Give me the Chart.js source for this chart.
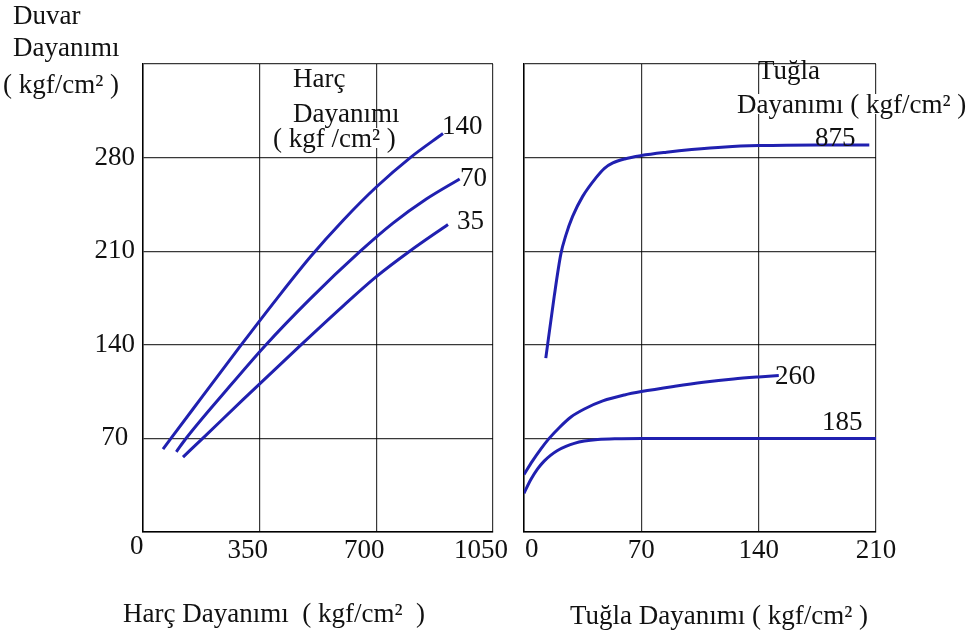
<!DOCTYPE html>
<html lang="tr">
<head>
<meta charset="utf-8">
<title>Duvar Dayanımı</title>
<script src="https://cdn.jsdelivr.net/npm/chart.js@4/dist/chart.umd.min.js"></script>
<style>
  html, body { margin: 0; padding: 0; background: #fff; }
  #wrap {
    position: relative; width: 973px; height: 644px; overflow: hidden;
    font-family: "Liberation Serif", "Times New Roman", serif; color: #111;
  }
  canvas { position: absolute; top: 0; }
  #harcChart { left: 0; }
  #tuglaChart { left: 505px; }
  .lbl { position: absolute; font-size: 27px; line-height: 27px; white-space: pre; }
  .bg { background: #fff; line-height: 20px; }
</style>
</head>
<body>
<div id="wrap">
  <canvas id="harcChart" width="520" height="644"></canvas>
  <canvas id="tuglaChart" width="468" height="644"></canvas>

  <!-- eksen başlığı (sol üst) -->
  <div class="lbl" style="left:13px;top:2px">Duvar</div>
  <div class="lbl" style="left:13px;top:34px">Dayanımı</div>
  <div class="lbl" style="left:3px;top:71px">( kgf/cm² )</div>

  <!-- sol grafik içi -->
  <div class="lbl" style="left:293px;top:65px">Harç</div>
  <div class="lbl" style="left:293px;top:100px">Dayanımı</div>
  <div class="lbl bg" style="left:273px;top:128px">( kgf /cm² )</div>
  <div class="lbl" style="left:442px;top:112px">140</div>
  <div class="lbl" style="left:460px;top:164px">70</div>
  <div class="lbl" style="left:457px;top:207px">35</div>

  <!-- sağ grafik içi -->
  <div class="lbl" style="left:758px;top:57px">Tuğla</div>
  <div class="lbl bg" style="left:737px;top:94px">Dayanımı ( kgf/cm² )</div>
  <div class="lbl" style="left:815px;top:124px">875</div>
  <div class="lbl" style="left:775px;top:362px">260</div>
  <div class="lbl" style="left:822px;top:408px">185</div>

  <!-- orijin ve alt başlıklar -->
  <div class="lbl" style="left:130px;top:532px">0</div>
  <div class="lbl" style="left:525px;top:535px">0</div>
  <div class="lbl" style="left:123px;top:600px">Harç Dayanımı  ( kgf/cm²  )</div>
  <div class="lbl" style="left:570px;top:602px">Tuğla Dayanımı ( kgf/cm² )</div>
</div>

<script>
// ==========================================
// 1. DATA
// ==========================================
const yTicks = [0, 70, 140, 210, 280, 350];
const harcTicks = [0, 350, 700, 1050];
const tuglaTicks = [0, 70, 140, 210];

// sol grafik: eğri etiketleri 140 / 70 / 35
const harcX140 = [60, 150, 298, 400, 503, 600, 700, 802, 900];
const duvarY140 = [62, 92, 141, 174, 206, 233, 258, 280, 298];
const harcX70 = [100, 126, 250, 365, 500, 652, 750, 850, 950];
const duvarY70 = [60, 69, 106, 139, 174, 210, 231, 249, 264];
const harcX35 = [120, 183, 300, 474, 600, 700, 800, 915];
const duvarY35 = [56, 71, 99, 140, 169, 191, 210, 230];

// sağ grafik: eğri etiketleri 875 / 260 / 185
const tuglaX875 = [13, 18, 22, 25, 29, 35, 43, 48, 53, 60, 70, 85, 100, 120, 140, 175, 206];
const duvarY875 = [130, 176, 208, 222, 236, 251, 265, 272, 276, 279, 281.5, 284, 286, 288, 289, 289.5, 289.5];
const tuglaX260 = [0, 5, 10, 15, 21, 28, 36, 47, 60, 70, 90, 107, 125, 140, 152];
const duvarY260 = [43, 53, 62, 70, 78, 86, 92, 98, 102.5, 105, 109, 112, 114.5, 116, 117];
const tuglaX185 = [0, 4, 8, 12, 16, 20, 25, 30, 36, 44, 55, 70, 140, 210];
const duvarY185 = [29, 39, 47, 53, 57.5, 61, 64, 66.3, 68, 69.2, 69.8, 70, 70, 70];

// ==========================================
// 2. ORTAK AYARLAR
// ==========================================
const LINE_COLOR = "#2020b0";
const GRID_COLOR = "rgba(0, 0, 0, 0.78)";

const toPoints = (xs, ys) => xs.map((x, i) => ({ x: x, y: ys[i] }));

const curve = (xs, ys) => ({
  data: toPoints(xs, ys),
  borderColor: LINE_COLOR,
  borderWidth: 3,
  pointRadius: 0,
  fill: false,
  cubicInterpolationMode: "monotone",
});

const gridOpts = { color: GRID_COLOR, lineWidth: 1.2, drawTicks: false };
const borderOpts = { color: "#000", width: 1.5 };

function yScale(width, showLabels) {
  return {
    type: "linear",
    min: yTicks[0],
    max: yTicks[yTicks.length - 1],
    afterBuildTicks: (s) => { s.ticks = yTicks.map((v) => ({ value: v })); },
    grid: gridOpts,
    border: borderOpts,
    ticks: {
      display: showLabels,
      color: "#111",
      padding: 8,
      crossAlign: "center",
      callback: (v) => (v === 0 || v === 350 ? "" : v),
    },
    afterFit: (s) => {
      s.width = width;
      s.paddingTop = 0;
      s.paddingBottom = 0;
    },
  };
}

function xScale(ticks, offset) {
  return {
    type: "linear",
    min: ticks[0],
    max: ticks[ticks.length - 1],
    afterBuildTicks: (s) => { s.ticks = ticks.map((v) => ({ value: v })); },
    grid: gridOpts,
    border: borderOpts,
    ticks: {
      color: "#111",
      padding: 3,
      labelOffset: offset,
      maxRotation: 0,
      autoSkip: false,
      callback: (v) => (v === 0 ? "" : v),
    },
    afterFit: (s) => {
      s.height = 112;
      s.paddingLeft = 0;
      s.paddingRight = 0;
    },
  };
}

function baseOptions(xOpts, yOpts, padRight) {
  return {
    responsive: false,
    animation: false,
    layout: { padding: { top: 64, right: padRight, left: 0, bottom: 0 } },
    plugins: { legend: { display: false }, tooltip: { enabled: false } },
    scales: { x: xOpts, y: yOpts },
  };
}

// ==========================================
// 3. GRAFIKLER
// ==========================================
document.addEventListener("DOMContentLoaded", () => {
  if (typeof Chart === "undefined") {
    console.warn("Chart.js yüklenemedi.");
    return;
  }
  Chart.defaults.font.family = '"Liberation Serif", "Times New Roman", serif';
  Chart.defaults.font.size = 27;
  Chart.defaults.color = "#111";

  new Chart(document.getElementById("harcChart"), {
    type: "line",
    data: {
      datasets: [
        curve(harcX140, duvarY140),
        curve(harcX70, duvarY70),
        curve(harcX35, duvarY35),
      ],
    },
    options: baseOptions(xScale(harcTicks, -12), yScale(143, true), 27),
  });

  new Chart(document.getElementById("tuglaChart"), {
    type: "line",
    data: {
      datasets: [
        curve(tuglaX875, duvarY875),
        curve(tuglaX260, duvarY260),
        curve(tuglaX185, duvarY185),
      ],
    },
    options: baseOptions(xScale(tuglaTicks, 0), yScale(19, false), 97),
  });
});
</script>
</body>
</html>
